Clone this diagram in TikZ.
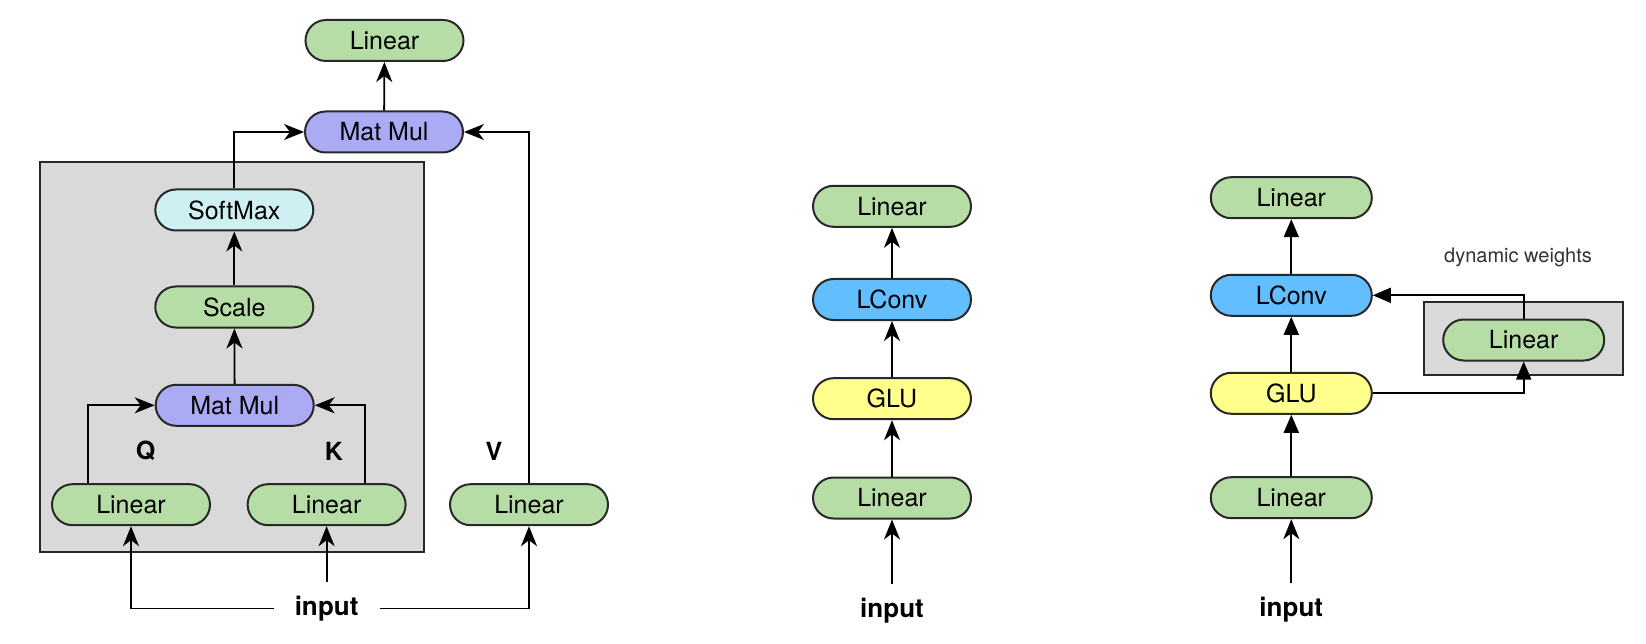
\documentclass[tikz,border=0pt]{standalone}
\usepackage{fontspec}
\setmainfont{TeX Gyre Heros}
\usetikzlibrary{arrows.meta}
\definecolor{grn}{RGB}{182,221,166}
\definecolor{lav}{RGB}{170,170,245}
\definecolor{cyn}{RGB}{206,240,242}
\definecolor{blu}{RGB}{98,190,255}
\definecolor{yel}{RGB}{255,255,140}
\definecolor{boxgray}{RGB}{217,217,217}
\definecolor{edge}{RGB}{40,40,40}
\begin{document}
\begin{tikzpicture}[x=1pt,y=-1pt,
  blk/.style={draw=edge, line width=2pt, rounded corners=20.5pt,
    minimum width=158pt, minimum height=41pt, inner sep=0pt,
    font=\fontsize{25}{28}\selectfont},
  rblk/.style={blk, minimum width=161pt},
  lab/.style={font=\fontsize{25}{28}\selectfont\bfseries},
  inp/.style={font=\fontsize{26}{28}\selectfont\bfseries, inner xsep=21pt, inner ysep=14pt},
  greybox/.style={draw=edge, line width=2pt, fill=boxgray},
  arr/.style={draw=black, line width=1.8pt, -{Stealth[length=20pt,width=16pt,inset=6pt]}},
  tri/.style={draw=black, line width=1.8pt, -{Triangle[length=18pt,width=15pt]}},
  dwt/.style={font=\fontsize{20}{24}\selectfont, text=black!80}
]
\useasboundingbox (0,0) rectangle (1646,644);
\fill[white] (0,0) rectangle (1646,644);

% ---------- left panel ----------
\draw[greybox] (39.5,162.3) rectangle (424.3,551.7);
\node[blk,fill=grn] (lt)  at (384.5,40.5) {Linear};
\node[blk,fill=lav] (mm1) at (384,132) {Mat Mul};
\node[blk,fill=cyn] (sm)  at (234.3,210) {SoftMax};
\node[blk,fill=grn] (sc)  at (234.3,307) {Scale};
\node[blk,fill=lav] (mm2) at (234.7,405.3) {Mat Mul};
\node[blk,fill=grn] (lq)  at (131,504.7) {Linear};
\node[blk,fill=grn] (lk)  at (326.6,504.7) {Linear};
\node[blk,fill=grn] (lv)  at (529,504.7) {Linear};
\node[lab] (q) at (145.5,451) {Q};
\node[lab] (k) at (334,451) {K};
\node[lab] (v) at (494,451) {V};
\node[inp] (in1) at (326.6,608.5) {input};

\draw[arr] (mm1) -- (lt);
\draw[arr] (sm.north) |- (mm1.west);
\draw[arr] (lv.north) |- (mm1.east);
\draw[arr] (sc) -- (sm);
\draw[arr] (mm2) -- (sc);
\draw[arr] ([xshift=-43pt]lq.north) |- (mm2.west);
\draw[arr] ([xshift=38pt]lk.north) |- (mm2.east);
\draw[arr] (in1.west) -| (lq.south);
\draw[arr] (in1.east) -| (lv.south);
\draw[arr] (in1.north) -- (lk.south);

% ---------- middle panel ----------
\node[blk,fill=grn] (m4) at (892,206.3) {Linear};
\node[blk,fill=blu] (m3) at (892,299.5) {LConv};
\node[blk,fill=yel] (m2) at (892,398.7) {GLU};
\node[blk,fill=grn] (m1) at (892,498) {Linear};
\node[inp] (in2) at (892,611) {input};
\draw[arr] (in2.north) -- (m1.south);
\draw[arr] (m1) -- (m2);
\draw[arr] (m2) -- (m3);
\draw[arr] (m3) -- (m4);

% ---------- right panel ----------
\draw[greybox] (1424,302.3) rectangle (1622.7,375);
\node[rblk,fill=grn] (r4) at (1291.3,197.7) {Linear};
\node[rblk,fill=blu] (r3) at (1291.3,295.3) {LConv};
\node[rblk,fill=yel] (r2) at (1291.3,393.3) {GLU};
\node[rblk,fill=grn] (r1) at (1291.3,497.7) {Linear};
\node[rblk,fill=grn] (rd) at (1523.7,340) {Linear};
\node[dwt] (dw) at (1518,257.5) {dynamic weights};
\node[inp] (in3) at (1291.3,610) {input};
\draw[arr] (in3.north) -- (r1.south);
\draw[tri] (r1) -- (r2);
\draw[tri] (r2) -- (r3);
\draw[tri] (r3) -- (r4);
\draw[tri] (r2.east) -| (rd.south);
\draw[tri] (rd.north) |- (r3.east);
\end{tikzpicture}
\end{document}
